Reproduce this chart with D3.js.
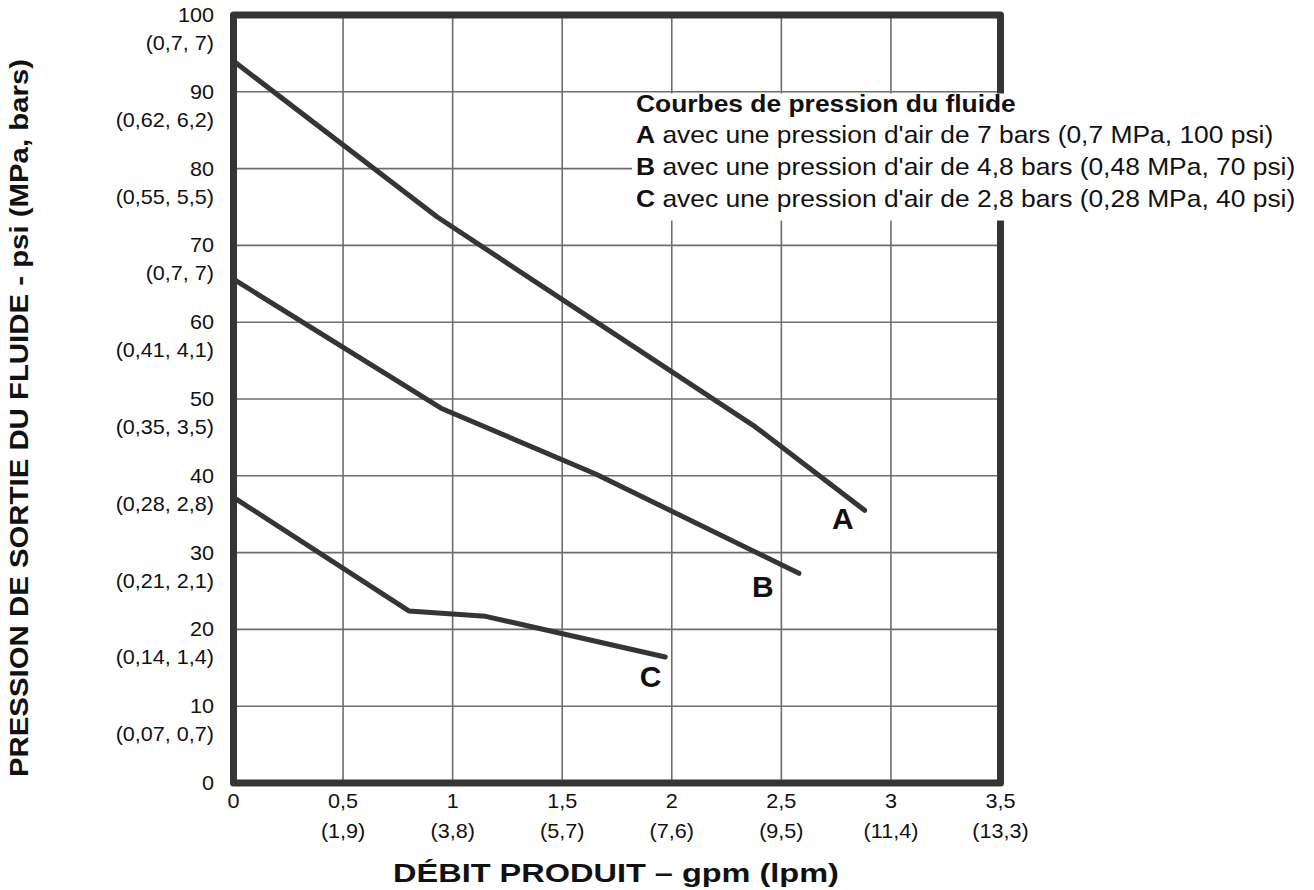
<!DOCTYPE html>
<html>
<head>
<meta charset="utf-8">
<script src="https://cdn.jsdelivr.net/npm/d3@7"></script>
<style>
html,body{margin:0;padding:0;background:#fff;}
svg{display:block;}
</style>
</head>
<body>
<svg id="chart" width="1314" height="890"></svg>
<script>
// ---- data ----
const xTicks = [0, 0.5, 1, 1.5, 2, 2.5, 3, 3.5];
const xTickLabels = ["0", "0,5", "1", "1,5", "2", "2,5", "3", "3,5"];
const xTickSub = ["", "(1,9)", "(3,8)", "(5,7)", "(7,6)", "(9,5)", "(11,4)", "(13,3)"];
const yTicks = [0, 10, 20, 30, 40, 50, 60, 70, 80, 90, 100];
const yTickLabels = ["0", "10", "20", "30", "40", "50", "60", "70", "80", "90", "100"];
const yTickSub = ["", "(0,07, 0,7)", "(0,14, 1,4)", "(0,21, 2,1)", "(0,28, 2,8)", "(0,35, 3,5)", "(0,41, 4,1)", "(0,7, 7)", "(0,55, 5,5)", "(0,62, 6,2)", "(0,7, 7)"];

const curveA = [[0, 94.0], [0.93, 73.7], [2.38, 46.4], [2.88, 35.5]];
const curveB = [[0, 65.6], [0.947, 48.8], [1.655, 40.2], [2.58, 27.3]];
const curveC = [[0, 37.2], [0.80, 22.4], [1.15, 21.7], [1.97, 16.4]];
const curveNames = ["A", "B", "C"];

const legendTitle = "Courbes de pression du fluide";
const legendItems = [
  ["A", " avec une pression d'air de 7 bars (0,7 MPa, 100 psi)"],
  ["B", " avec une pression d'air de 4,8 bars (0,48 MPa, 70 psi)"],
  ["C", " avec une pression d'air de 2,8 bars (0,28 MPa, 40 psi)"]
];
const xTitle = "DÉBIT PRODUIT – gpm (lpm)";
const yTitle = "PRESSION DE SORTIE DU FLUIDE - psi (MPa, bars)";

// ---- layout ----
const svg = d3.select("#chart");
const FONT = "'Liberation Sans', Arial, Helvetica, sans-serif";
const INK = "#353535";
const x = d3.scaleLinear().domain([0, 3.5]).range([233.5, 1000.5]);
const y = d3.scaleLinear().domain([0, 100]).range([783, 15]);

function addText(parent, tx, ty, str, opt) {
  const sx = opt.sx || 1;
  return parent.append("text")
    .attr("transform", `translate(${tx},${ty})${opt.rot ? ` rotate(${opt.rot})` : ""} scale(${sx},1)`)
    .attr("font-family", FONT)
    .attr("font-size", opt.size)
    .attr("font-weight", opt.weight || "normal")
    .attr("text-anchor", opt.anchor || "start")
    .attr("fill", opt.fill || "#111")
    .text(str);
}

// grid
const grid = svg.append("g");
grid.selectAll("line.v").data(xTicks.filter(d => d > 0 && d < 3.5)).join("line")
  .attr("x1", d => x(d)).attr("x2", d => x(d))
  .attr("y1", y(100)).attr("y2", y(0))
  .attr("stroke", "#6e6e6e").attr("stroke-width", 1.6);
grid.selectAll("line.h").data(yTicks.filter(d => d > 0 && d < 100)).join("line")
  .attr("x1", x(0)).attr("x2", x(3.5))
  .attr("y1", d => y(d)).attr("y2", d => y(d))
  .attr("stroke", "#6e6e6e").attr("stroke-width", 1.6);

// frame
svg.append("rect")
  .attr("x", x(0)).attr("y", y(100))
  .attr("width", x(3.5) - x(0)).attr("height", y(0) - y(100))
  .attr("fill", "none").attr("stroke", INK).attr("stroke-width", 7)
  .attr("stroke-linejoin", "round");

// curves
const line = d3.line().x(d => x(d[0])).y(d => y(d[1]));
[curveA, curveB, curveC].forEach(c => {
  svg.append("path").attr("d", line(c))
    .attr("fill", "none").attr("stroke", INK).attr("stroke-width", 5)
    .attr("stroke-linejoin", "round").attr("stroke-linecap", "round");
});

// curve labels, placed just below-left of each curve's end
const ends = [curveA, curveB, curveC].map(c => c[c.length - 1]);
const labelOffsets = [[-0.10, -2.45], [-0.165, -3.1], [-0.067, -3.9]];
ends.forEach((e, i) => {
  addText(svg, x(e[0] + labelOffsets[i][0]), y(e[1] + labelOffsets[i][1]), curveNames[i],
    {size: 30, weight: "bold", anchor: "middle"});
});

// legend box
svg.append("rect").attr("x", 632).attr("y", 93.5).attr("width", 682).attr("height", 127).attr("fill", "#fff");
const lg = svg.append("g");
addText(lg, 636, 111.7, legendTitle, {size: 24, weight: "bold", sx: 1.1});
legendItems.forEach((it, i) => {
  const t = lg.append("text")
    .attr("transform", `translate(636,${143.4 + i * 31.7}) scale(1.1,1)`)
    .attr("font-family", FONT).attr("font-size", 24).attr("fill", "#111");
  t.append("tspan").attr("font-weight", "bold").text(it[0]);
  t.append("tspan").text(it[1]);
});

// x tick labels
const xl = svg.append("g");
xTicks.forEach((d, i) => {
  addText(xl, x(d), 808, xTickLabels[i], {size: 20, anchor: "middle", sx: 1.08});
  if (xTickSub[i]) addText(xl, x(d), 838, xTickSub[i], {size: 20, anchor: "middle", sx: 1.08});
});

// y tick labels
const yl = svg.append("g");
yTicks.forEach((d, i) => {
  addText(yl, 214, y(d) + 7, yTickLabels[i], {size: 20, anchor: "end", sx: 1.08});
  if (yTickSub[i]) addText(yl, 214, y(d) + 35, yTickSub[i], {size: 20, anchor: "end", sx: 1.08});
});

// axis titles
addText(svg, 616, 882, xTitle, {size: 26, weight: "bold", anchor: "middle", sx: 1.25});
addText(svg, 28, 418, yTitle, {size: 26, weight: "bold", anchor: "middle", sx: 1.13, rot: -90});
</script>
</body>
</html>
